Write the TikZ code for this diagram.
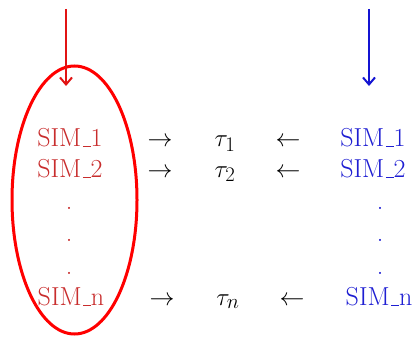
\documentclass[tikz,border=0pt]{standalone}
\usetikzlibrary{arrows.meta,shapes.geometric}
\DeclareMathSizes{26}{26}{20}{15}
\definecolor{txtred}{RGB}{200,45,45}
\definecolor{txtblue}{RGB}{30,30,210}
\definecolor{arrred}{RGB}{225,20,20}
\definecolor{arrblue}{RGB}{20,20,210}
\newcommand\lowbar{\leavevmode\kern.06em\vbox{\hrule width.3em}}
\begin{document}
\begin{tikzpicture}[x=1pt,y=-1pt,
  lbl/.style={anchor=base,inner sep=0pt,font=\fontsize{26}{30}\selectfont},
  redt/.style={lbl,text=txtred},
  bluet/.style={lbl,text=txtblue},
  blackt/.style={lbl,text=black},
  feed/.style={line width=2pt,-{Straight Barb[length=7pt,width=12pt,line width=2pt]}}]
\useasboundingbox (0,0) rectangle (419,337);
% left column
\node[redt] (l1) at (70,146.5) {SIM\lowbar 1};
\node[redt] (l2) at (70,177) {SIM\lowbar 2};
\node[redt] (ld1) at (69,209) {.};
\node[redt] (ld2) at (69,241) {.};
\node[redt] (ld3) at (69,274) {.};
\node[redt] (ln) at (71,305) {SIM\lowbar n};
% right arrows
\node[blackt] (ra1) at (160,146.5) {$\rightarrow$};
\node[blackt] (ra2) at (160,177) {$\rightarrow$};
\node[blackt] (ran) at (162,305) {$\rightarrow$};
% taus
\node[blackt] (t1) at (225,146.5) {$\tau_1$};
\node[blackt] (t2) at (225,177) {$\tau_2$};
\node[blackt] (tn) at (228,305) {$\tau_n$};
% left arrows
\node[blackt] (la1) at (288,146.5) {$\leftarrow$};
\node[blackt] (la2) at (288,177) {$\leftarrow$};
\node[blackt] (lan) at (292,305) {$\leftarrow$};
% right column
\node[bluet] (r1) at (373,146.5) {SIM\lowbar 1};
\node[bluet] (r2) at (373,177) {SIM\lowbar 2};
\node[bluet] (rd1) at (380,209) {.};
\node[bluet] (rd2) at (380,241) {.};
\node[bluet] (rd3) at (380,274) {.};
\node[bluet] (rn) at (379,305) {SIM\lowbar n};
% ellipse
\node[draw=red,line width=3pt,ellipse,minimum width=125pt,minimum height=268pt,inner sep=0pt] (ell) at (74.5,200) {};
% feed arrows
\coordinate (ts) at (66,9);
\coordinate (te) at (66,86);
\draw[feed,arrred] (ts) -- (te);
\coordinate (bs) at (369,9);
\coordinate (be) at (369,86);
\draw[feed,arrblue] (bs) -- (be);
\end{tikzpicture}
\end{document}
